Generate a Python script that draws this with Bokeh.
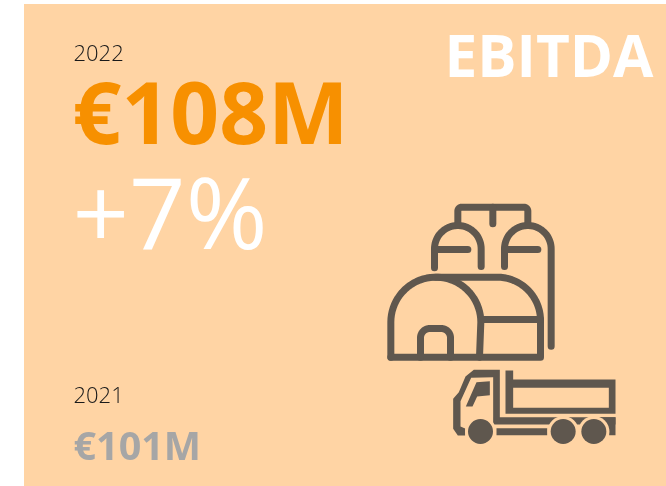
import numpy as np
from bokeh.plotting import figure
from bokeh.core.properties import value
from bokeh.embed import file_html
from bokeh.resources import INLINE

BG = "#FFD4A4"
ORANGE = "#F79000"
DARK = "#5F574E"
GREY = "#A6A6A6"

metric_title = "EBITDA"
year_now = "2022"
value_now = "€108M"
change = "+7%"
year_prev = "2021"
value_prev = "€101M"

p = figure(width=666, height=486, x_range=(0, 666), y_range=(486, 0), toolbar_location=None,
           output_backend="svg", min_border=0, outline_line_color=None,
           background_fill_color="white", border_fill_color="white")
p.axis.visible = False
p.grid.visible = False
p.styles = {"position": "fixed", "left": "0px", "top": "0px"}

p.quad(left=[23.5], right=[666], top=[3.5], bottom=[486], fill_color=BG, line_color=None)

def tx(text, x, y, size, color, style="normal", font="Open Sans"):
    p.text([x], [y], text=[text], text_font=value(font), text_font_size=f"{size}px", text_color=color,
           text_font_style=style, text_align="left", text_baseline="alphabetic")

tx(year_now, 73, 52, 22, "#1a1a1a", font="Open Sans Light")
tx(value_now, 72, 110, 85.5, ORANGE, "bold")
tx(change, 72, 210, 99, "white")
tx(metric_title, 444, 53, 58.5, "white", "bold")
tx(year_prev, 73, 394, 22, "#1a1a1a", font="Open Sans Light")
tx(value_prev, 73, 444, 39.5, GREY, "bold")

# icon outlines, given in a 3x local grid
def X(v): return 370 + np.asarray(v, float) / 3
def Y(v): return 190 + np.asarray(v, float) / 3
def arc(cx, cy, r, a0, a1):
    t = np.radians(np.linspace(a0, a1, 40))
    return list(cx + r * np.cos(t)), list(cy + r * np.sin(t))
def path(*segs):
    xs, ys = [], []
    for s in segs:
        xs += list(s[0]); ys += list(s[1])
    return xs, ys

strokes = [
    path(([262, 262], [100, 62]), arc(274, 62, 12, 180, 270), arc(460, 62, 12, 270, 360), ([472, 472], [62, 100])),
    ([367, 367], [50, 100]),
    path(([192, 192], [232, 175]), arc(262, 175, 70, 180, 360), ([332, 332], [175, 228])),
    ([192, 292], [177, 177]),
    path(([402, 402], [228, 175]), arc(472, 175, 70, 180, 360), ([542, 542], [175, 467])),
    ([402, 502], [177, 177]),
    path(([61, 61], [500, 395]), arc(196, 395, 135, 180, 360), ([331, 327], [395, 500])),
    path(([195, 380], [260, 260]), arc(380, 390, 130, 270, 360), ([510, 510], [390, 500]), ([510, 61], [500, 500])),
    ([335, 510], [387, 387]),
    path(([150, 150], [500, 442]), arc(178, 442, 28, 180, 270), arc(212, 442, 28, 270, 360), ([240, 240], [442, 500])),
]
p.multi_line([list(X(s[0])) for s in strokes], [list(Y(s[1])) for s in strokes], line_color=DARK,
             line_width=7, line_cap="round", line_join="round")

def poly(xs, ys, color):
    p.patch(list(X(xs)), list(Y(ys)), fill_color=color, line_color=None)

# truck
poly([405, 428, 428, 735, 735, 405], [540, 540, 567, 567, 670, 670], DARK)
poly([428, 715, 715, 428], [592, 592, 652, 652], BG)
poly([370, 735, 735, 370], [680, 680, 702, 702], DARK)
poly([248, 265, 285, 310, 388, 388, 368, 368, 302, 270, 270, 284, 284, 262, 248],
     [625, 605, 558, 538, 538, 690, 702, 560, 562, 632, 708, 714, 735, 735, 715], DARK)
poly([286, 318, 358, 358, 320, 306], [648, 575, 572, 614, 618, 648], DARK)
poly([378, 530, 530, 378], [713, 713, 734, 734], DARK)
poly([680, 735, 735, 716, 716, 680], [680, 680, 734, 734, 715, 690], DARK)

wheel_x = [330, 578, 670]
p.scatter(list(X(wheel_x)), list(Y([723, 723, 723])), size=31, fill_color=BG, line_color=None)
p.scatter(list(X(wheel_x)), list(Y([723, 723, 723])), size=25, fill_color=DARK, line_color=None)

open("out.html", "w").write(file_html(p, INLINE))
